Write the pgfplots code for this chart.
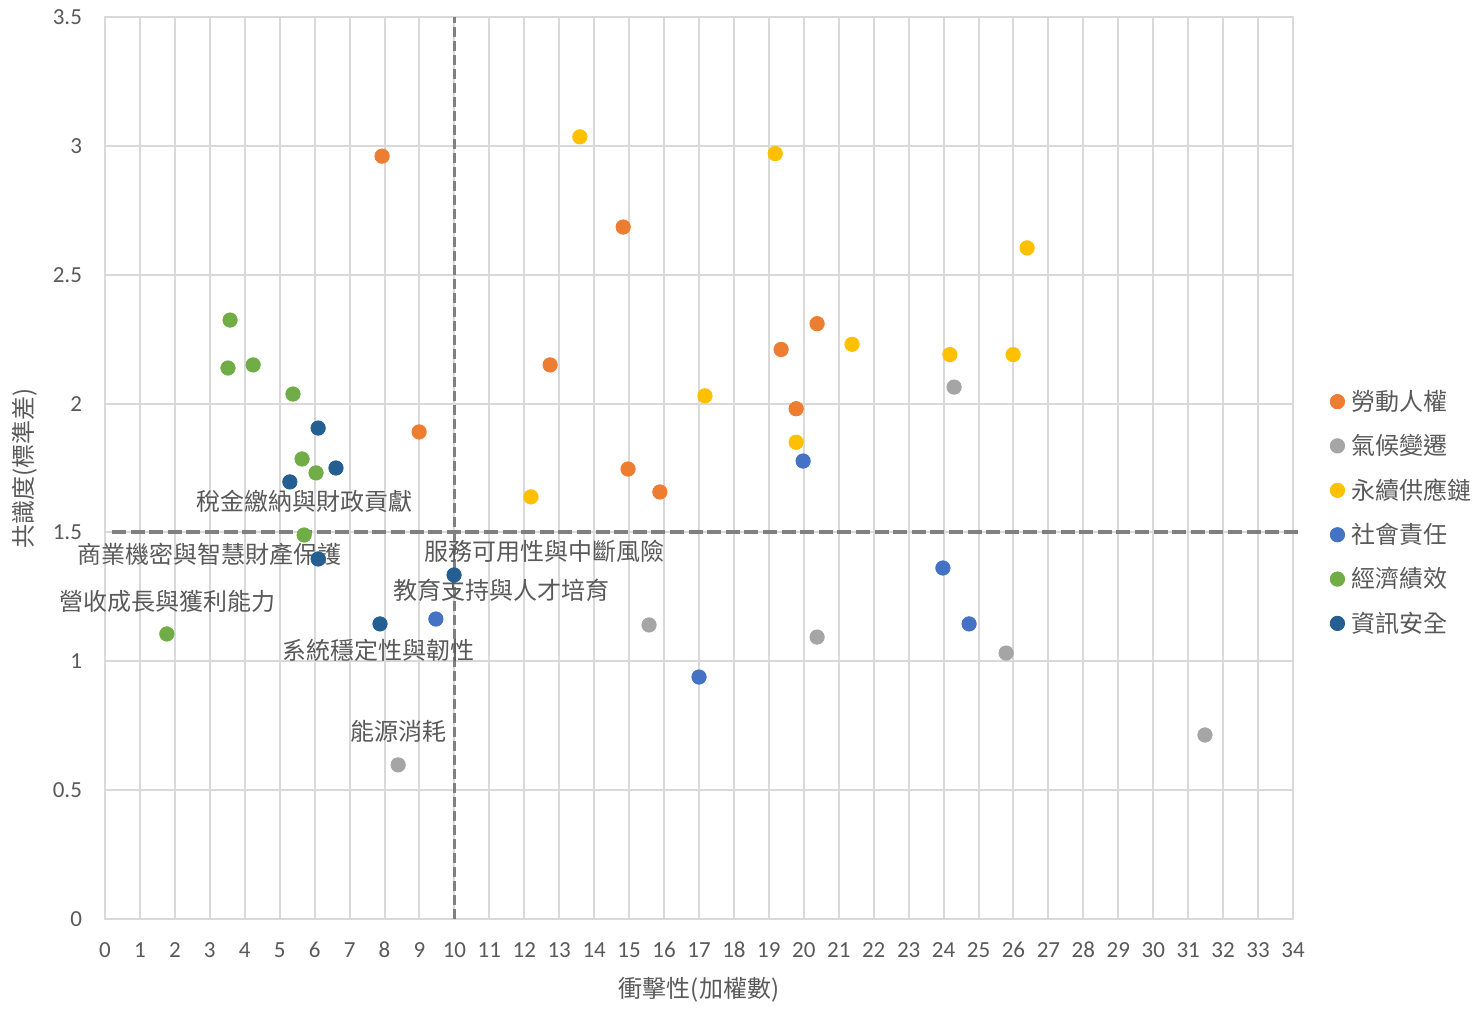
\documentclass[border=0pt]{standalone}
\usepackage{pgfplots}
\pgfplotsset{compat=1.18}
\usepackage{fontspec}
\setmainfont{Carlito}
\newfontfamily\cjk{Noto Sans CJK TC}
\definecolor{corange}{HTML}{ED7D31}
\definecolor{cgray}{HTML}{A5A5A5}
\definecolor{cyellow}{HTML}{FFC000}
\definecolor{cblue}{HTML}{4472C4}
\definecolor{cgreen}{HTML}{70AD47}
\definecolor{cnavy}{HTML}{255E91}
\definecolor{gridc}{HTML}{D9D9D9}
\definecolor{labc}{HTML}{595959}
\definecolor{dashc}{HTML}{808080}
\begin{document}
\begin{tikzpicture}
\path[use as bounding box] (-52.5pt,-49pt) rectangle (685.5pt,459.5pt);
\begin{axis}[
    at={(0,0)}, anchor=south west,
    scale only axis, width=594pt, height=451pt,
    xmin=0, xmax=34, ymin=0, ymax=3.5,
    xtick={0,1,...,34}, ytick={0,0.5,...,3.5},
    grid=major,
    major grid style={gridc, line width=1pt},
    axis line style={gridc, line width=1pt},
    tick style={draw=none},
    /pgf/number format/assume math mode=true,
    ticklabel style={font=\fontsize{11.5}{13}\selectfont, text=labc},
    xticklabel style={anchor=center, yshift=-15.5pt},
    yticklabel style={anchor=east, xshift=-8pt},
    xlabel={\cjk 衝擊性(加權數)},
    ylabel={\cjk 共識度(標準差)},
    label style={font=\cjk\fontsize{12}{14}\selectfont, text=labc},
    xlabel style={at={(axis description cs:0.5,-0.0787)}, anchor=center},
    ylabel style={at={(axis description cs:-0.0673,0.5)}, anchor=center},
    clip=false,
    legend image code/.code={\draw[#1] plot coordinates {(0pt,0pt)};},
    legend cell align=left,
    legend style={at={(axis description cs:1.031,0.4506)}, anchor=west,
        draw=none, fill=none, inner sep=0pt,
        font=\cjk\fontsize{12}{14}\selectfont, text=labc,
        nodes={inner sep=2pt}, column sep=1.5pt, row sep=6.5pt},
    every axis plot/.append style={only marks, mark=*, mark size=3.6pt},
]
% horizontal reference line (behind points)
\addplot[forget plot, no marks, sharp plot, dashc, line width=2pt, dash pattern=on 7pt off 2.3pt]
    coordinates {(0.2,1.5) (34.2,1.5)};

\addplot[corange] coordinates {
    (7.93,2.96) (8.99,1.89) (12.74,2.15) (14.83,2.685) (14.97,1.746)
    (15.88,1.657) (19.35,2.21) (19.78,1.98) (20.38,2.31)
};
\addlegendentry{勞動人權}
\addplot[cgray] coordinates {
    (8.39,0.598) (15.57,1.141) (20.38,1.094) (24.30,2.064) (25.79,1.032) (31.48,0.714)
};
\addlegendentry{氣候變遷}
\addplot[cyellow] coordinates {
    (13.59,3.035) (19.18,2.97) (12.19,1.638) (17.17,2.03) (19.78,1.85)
    (21.38,2.23) (24.18,2.19) (25.99,2.19) (26.39,2.604)
};
\addlegendentry{永續供應鏈}
\addplot[cblue] coordinates {
    (9.47,1.164) (17.0,0.939) (19.98,1.777) (23.98,1.362) (24.73,1.145)
};
\addlegendentry{社會責任}
\addplot[cgreen] coordinates {
    (1.77,1.106) (3.58,2.324) (3.52,2.138) (4.24,2.15) (5.38,2.037)
    (5.64,1.785) (6.04,1.731) (5.70,1.49)
};
\addlegendentry{經濟績效}
\addplot[cnavy] coordinates {
    (5.29,1.696) (6.10,1.905) (6.61,1.75) (6.10,1.397) (7.87,1.145) (9.99,1.335)
};
\addlegendentry{資訊安全}

% vertical reference line
\addplot[forget plot, no marks, sharp plot, dashc, line width=1.6pt, dash pattern=on 5pt off 2pt]
    coordinates {(10,0) (10,3.5)};

% data labels
\begin{scope}[every node/.style={font=\cjk\fontsize{12}{14}\selectfont, text=labc, inner sep=0pt}]
\node at (axis cs:5.70,1.622) {稅金繳納與財政貢獻};
\node at (axis cs:2.98,1.413) {商業機密與智慧財產保護};
\node at (axis cs:1.80,1.234) {營收成長與獲利能力};
\node at (axis cs:12.59,1.428) {服務可用性與中斷風險};
\node at (axis cs:11.36,1.277) {教育支持與人才培育};
\node at (axis cs:7.84,1.044) {系統穩定性與韌性};
\node at (axis cs:8.39,0.726) {能源消耗};
\end{scope}
\end{axis}
\end{tikzpicture}
\end{document}
